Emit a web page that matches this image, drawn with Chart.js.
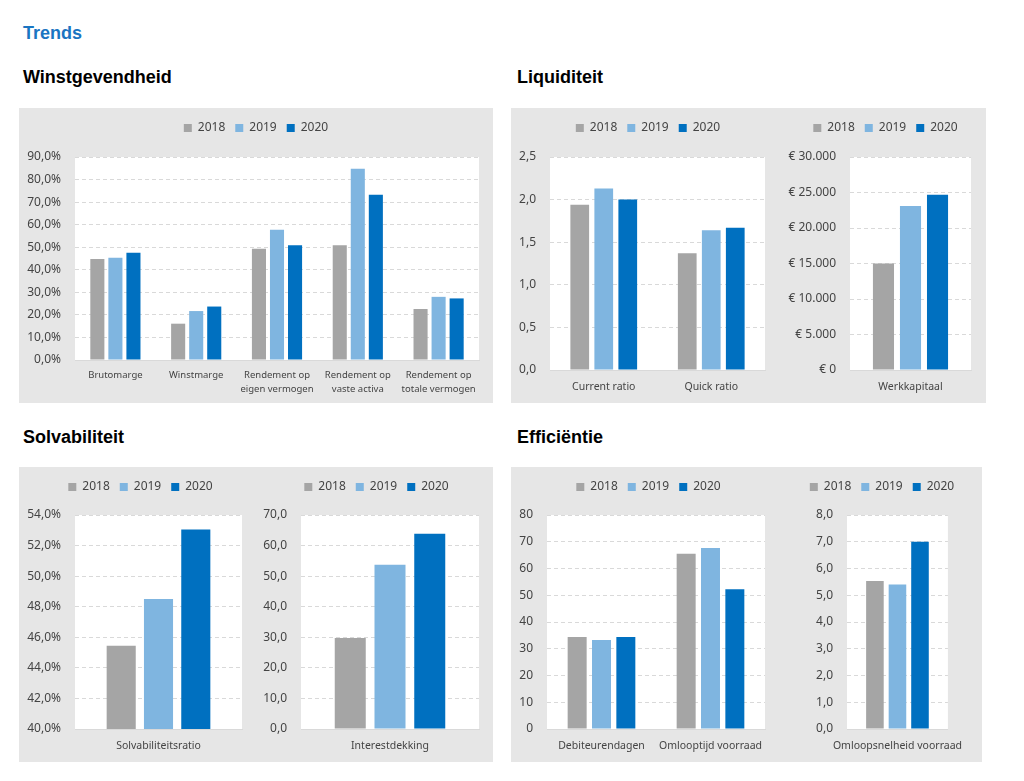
<!DOCTYPE html>
<html lang="nl">
<head>
<meta charset="utf-8">
<title>Trends</title>
<script src="https://cdn.jsdelivr.net/npm/chart.js@4.4.1/dist/chart.umd.min.js"></script>
<style>
  body { margin: 0; background: #fff; }
  #pagina { position: relative; width: 1024px; height: 781px; overflow: hidden; }
  .kop { position: absolute; font-family: "Liberation Sans", Arial, sans-serif; font-weight: bold; font-size: 18px; line-height: 18px; color: #000; white-space: nowrap; }
  .trends { color: #1a75c2; }
  .vak { position: absolute; background: #e6e6e6; }
  .grafiek { position: absolute; height: 295px; }
</style>
</head>
<body>
<div id="pagina">
  <div class="kop trends" style="left:23px;top:24px">Trends</div>

  <div class="kop" style="left:23px;top:68px">Winstgevendheid</div>
  <div class="kop" style="left:517px;top:68px">Liquiditeit</div>
  <div class="kop" style="left:23px;top:428px">Solvabiliteit</div>
  <div class="kop" style="left:517px;top:428px">Efficiëntie</div>

  <div class="vak" style="left:19px;top:108px;width:474px;height:295px"></div>
  <div class="vak" style="left:511px;top:108px;width:475px;height:295px"></div>
  <div class="vak" style="left:19px;top:467px;width:474px;height:295px"></div>
  <div class="vak" style="left:511px;top:467px;width:471px;height:295px"></div>

  <div class="grafiek" style="left:19px;top:108px;width:474px"><canvas id="winstgevendheid"></canvas></div>
  <div class="grafiek" style="left:511px;top:108px;width:274px"><canvas id="ratio"></canvas></div>
  <div class="grafiek" style="left:785px;top:108px;width:201px"><canvas id="werkkapitaal"></canvas></div>
  <div class="grafiek" style="left:19px;top:467px;width:243px"><canvas id="solvabiliteit"></canvas></div>
  <div class="grafiek" style="left:262px;top:467px;width:229px"><canvas id="interest"></canvas></div>
  <div class="grafiek" style="left:511px;top:467px;width:275px"><canvas id="dagen"></canvas></div>
  <div class="grafiek" style="left:786px;top:467px;width:192px"><canvas id="omloop"></canvas></div>
</div>

<script>
const jaren = [ '2018', '2019', '2020' ];
const kleuren = [ '#a5a5a5', '#7fb5e0', '#0070c0' ];
const tekstKleur = '#444444';

const winstLabels = [ 'Brutomarge', 'Winstmarge', [ 'Rendement op', 'eigen vermogen' ], [ 'Rendement op', 'vaste activa' ], [ 'Rendement op', 'totale vermogen' ] ];
const winst2018 = [ 44.8, 16.1, 49.3, 50.9, 22.6 ];
const winst2019 = [ 45.3, 21.7, 57.8, 84.8, 28.0 ];
const winst2020 = [ 47.5, 23.7, 50.9, 73.3, 27.3 ];

const ratioLabels = [ 'Current ratio', 'Quick ratio' ];
const ratio2018 = [ 1.94, 1.37 ];
const ratio2019 = [ 2.13, 1.64 ];
const ratio2020 = [ 2.00, 1.67 ];

const werkLabels = [ 'Werkkapitaal' ];
const werk2018 = [ 15000 ];
const werk2019 = [ 23100 ];
const werk2020 = [ 24700 ];

const solvLabels = [ 'Solvabiliteitsratio' ];
const solv2018 = [ 45.45 ];
const solv2019 = [ 48.5 ];
const solv2020 = [ 53.05 ];

const interestLabels = [ 'Interestdekking' ];
const interest2018 = [ 29.8 ];
const interest2019 = [ 53.7 ];
const interest2020 = [ 63.9 ];

const dagenLabels = [ 'Debiteurendagen', 'Omlooptijd voorraad' ];
const dagen2018 = [ 34.4, 65.5 ];
const dagen2019 = [ 33.3, 67.7 ];
const dagen2020 = [ 34.4, 52.2 ];

const omloopLabels = [ 'Omloopsnelheid voorraad' ];
const omloop2018 = [ 5.53 ];
const omloop2019 = [ 5.40 ];
const omloop2020 = [ 7.00 ];

const komma = ( v, d ) => v.toFixed( d ).replace( '.', ',' );
const euro = ( v ) => '€ ' + Math.round( v ).toString().replace( /\B(?=(\d{3})+(?!\d))/g, '.' );

const witVlak = {
	id: 'witVlak',
	beforeDraw( chart ) {
		const { ctx, chartArea: a } = chart;
		ctx.save();
		ctx.fillStyle = '#ffffff';
		ctx.fillRect( a.left, a.top, a.right - a.left, a.bottom - a.top );
		ctx.restore();
	},
};

// extra ruimte onder de legenda, en legenda gecentreerd over het hele vak
function legendaRuimte( extra ) {
	return {
		id: 'legendaRuimte',
		beforeInit( chart ) {
			const fit = chart.legend.fit;
			chart.legend.fit = function () {
				fit.call( this );
				this.height += extra;
			};
		},
		afterLayout( chart ) {
			chart.legend.left = 0;
			chart.legend.right = chart.width;
			chart.legend.width = chart.width;
		},
	};
}

function grafiek( id, c ) {
	new Chart( document.getElementById( id ), {
		type: 'bar',
		data: {
			labels: c.labels,
			datasets: c.reeksen.map( ( data, i ) => ( {
				label: jaren[ i ],
				data,
				backgroundColor: kleuren[ i ],
				categoryPercentage: 0.67,
				barPercentage: 0.78,
			} ) ),
		},
		options: {
			responsive: true,
			maintainAspectRatio: false,
			animation: false,
			layout: { padding: { top: 4, left: 0, right: c.pad, bottom: 0 } },
			plugins: {
				tooltip: { enabled: false },
				legend: {
					position: 'top',
					labels: {
						boxWidth: 8,
						boxHeight: 8,
						padding: 10,
						color: tekstKleur,
						font: { family: 'Noto Sans', size: 12 },
					},
				},
			},
			scales: {
				x: {
					grid: { display: false, drawTicks: false },
					border: { display: true, color: '#d9d9d9' },
					ticks: {
						color: tekstKleur,
						maxRotation: 0,
						autoSkip: false,
						padding: c.labelPad,
						font: { family: 'Noto Sans', size: c.labelFont, lineHeight: c.labelLijn },
					},
					afterFit( s ) { s.height = c.xHoogte; },
				},
				y: {
					min: c.min,
					max: c.max,
					grid: { color: '#d9d9d9', drawTicks: false },
					border: { display: false, dash: [ 4, 3 ] },
					ticks: {
						stepSize: c.stap,
						color: tekstKleur,
						padding: 14,
						font: { family: 'Noto Sans', size: 12 },
						callback: c.fmt,
					},
					afterFit( s ) { s.width = c.yBreedte; },
				},
			},
		},
		plugins: [ witVlak, legendaRuimte( c.gap ) ],
	} );
}

grafiek( 'winstgevendheid', {
	labels: winstLabels, reeksen: [ winst2018, winst2019, winst2020 ],
	min: 0, max: 90, stap: 10, fmt: ( v ) => komma( v, 1 ) + '%',
	pad: 14, yBreedte: 56, xHoogte: 43, gap: 13, labelPad: 9, labelFont: 9.5, labelLijn: 1.43,
} );

grafiek( 'ratio', {
	labels: ratioLabels, reeksen: [ ratio2018, ratio2019, ratio2020 ],
	min: 0, max: 2.5, stap: 0.5, fmt: ( v ) => komma( v, 1 ),
	pad: 20, yBreedte: 39, xHoogte: 33, gap: 13, labelPad: 11, labelFont: 10.5, labelLijn: 1.2,
} );

grafiek( 'werkkapitaal', {
	labels: werkLabels, reeksen: [ werk2018, werk2019, werk2020 ],
	min: 0, max: 30000, stap: 5000, fmt: euro,
	pad: 15, yBreedte: 65, xHoogte: 33, gap: 13, labelPad: 11, labelFont: 10.5, labelLijn: 1.2,
} );

grafiek( 'solvabiliteit', {
	labels: solvLabels, reeksen: [ solv2018, solv2019, solv2020 ],
	min: 40, max: 54, stap: 2, fmt: ( v ) => komma( v, 1 ) + '%',
	pad: 20, yBreedte: 56, xHoogte: 33, gap: 12, labelPad: 11, labelFont: 10.5, labelLijn: 1.2,
} );

grafiek( 'interest', {
	labels: interestLabels, reeksen: [ interest2018, interest2019, interest2020 ],
	min: 0, max: 70, stap: 10, fmt: ( v ) => komma( v, 1 ),
	pad: 12, yBreedte: 39, xHoogte: 33, gap: 12, labelPad: 11, labelFont: 10.5, labelLijn: 1.2,
} );

grafiek( 'dagen', {
	labels: dagenLabels, reeksen: [ dagen2018, dagen2019, dagen2020 ],
	min: 0, max: 80, stap: 10, fmt: ( v ) => komma( v, 0 ),
	pad: 21, yBreedte: 36, xHoogte: 33, gap: 12, labelPad: 11, labelFont: 10.5, labelLijn: 1.2,
} );

grafiek( 'omloop', {
	labels: omloopLabels, reeksen: [ omloop2018, omloop2019, omloop2020 ],
	min: 0, max: 8, stap: 1, fmt: ( v ) => komma( v, 1 ),
	pad: 10, yBreedte: 61, xHoogte: 33, gap: 12, labelPad: 11, labelFont: 10.5, labelLijn: 1.2,
} );
</script>
</body>
</html>
